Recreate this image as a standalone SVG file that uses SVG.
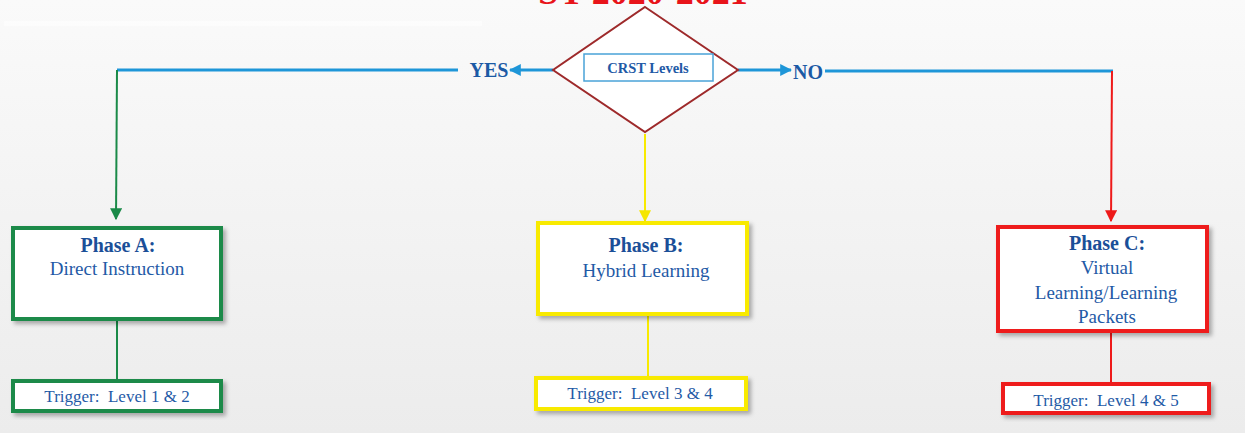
<svg xmlns="http://www.w3.org/2000/svg" width="1245" height="433" viewBox="0 0 1245 433">
  <defs>
    <linearGradient id="bg" x1="0" y1="0" x2="0" y2="1">
      <stop offset="0" stop-color="#fafafa"/>
      <stop offset="1" stop-color="#ececec"/>
    </linearGradient>
    <filter id="shadow" x="-10%" y="-10%" width="130%" height="140%">
      <feDropShadow dx="3" dy="3" stdDeviation="2" flood-color="#000" flood-opacity="0.3"/>
    </filter>
    <marker id="arrBlue" viewBox="0 0 10 10" refX="9" refY="5" markerWidth="4" markerHeight="4" orient="auto" markerUnits="strokeWidth">
      <path d="M0,0 L10,5 L0,10 z" fill="#1e96d8"/>
    </marker>
    <marker id="arrGreen" viewBox="0 0 10 10" refX="9" refY="5" markerWidth="6" markerHeight="6" orient="auto" markerUnits="strokeWidth">
      <path d="M0,0 L10,5 L0,10 z" fill="#1a8a48"/>
    </marker>
    <marker id="arrYellow" viewBox="0 0 10 10" refX="9" refY="5" markerWidth="6" markerHeight="6" orient="auto" markerUnits="strokeWidth">
      <path d="M0,0 L10,5 L0,10 z" fill="#f5e600"/>
    </marker>
    <marker id="arrRed" viewBox="0 0 10 10" refX="9" refY="5" markerWidth="6" markerHeight="6" orient="auto" markerUnits="strokeWidth">
      <path d="M0,0 L10,5 L0,10 z" fill="#ee1a1a"/>
    </marker>
    <style>
      text { font-family: "Liberation Serif", "Times New Roman", serif; fill: #1f5aa6; text-anchor: middle; white-space: pre; }
      .title { font-size: 36px; font-weight: bold; fill: #e8141a; }
      .head { font-size: 20px; font-weight: bold; fill: #1b4f98; }
      .body { font-size: 19px; }
      .trig { font-size: 17px; }
      .yn { font-size: 20px; font-weight: bold; fill: #1b5aa5; }
      .box { fill: #ffffff; stroke-width: 4; filter: url(#shadow); }
      .green { stroke: #1a8a48; }
      .yellow { stroke: #f8ea00; }
      .red { stroke: #ee1a1a; }
      .blue { stroke: #1e96d8; stroke-width: 3; fill: none; }
      .link { fill: none; stroke-width: 2; }
    </style>
  </defs>

  <!-- background -->
  <rect x="0" y="0" width="1245" height="433" fill="url(#bg)"/>
  <rect x="4" y="21" width="478" height="5" fill="#ffffff" opacity="0.5"/>

  <!-- title, partly above the top edge -->
  <text class="title" x="643" y="4">SY 2020-2021</text>

  <!-- connectors -->
  <g id="connectors">
    <polyline class="blue" points="458,70 117,70"/>
    <line class="blue" x1="553" y1="70" x2="510" y2="70" marker-end="url(#arrBlue)"/>
    <line class="blue" x1="738" y1="70" x2="791" y2="70" marker-end="url(#arrBlue)"/>
    <polyline class="blue" points="825,71 1113,71"/>
    <line class="link green" x1="117" y1="70" x2="116" y2="219" marker-end="url(#arrGreen)"/>
    <line class="link yellow" x1="645" y1="134" x2="645" y2="221" marker-end="url(#arrYellow)"/>
    <line class="link red" x1="1112" y1="71" x2="1111" y2="221" marker-end="url(#arrRed)"/>
    <line class="link green" x1="117" y1="320" x2="117" y2="380"/>
    <line class="link yellow" x1="648" y1="316" x2="648" y2="377"/>
    <line class="link red" x1="1111" y1="332" x2="1111" y2="383"/>
  </g>

  <!-- decision -->
  <g id="decision">
    <polygon points="645,7 738,70 645,132 553,70" fill="#ffffff" stroke="#9e2a2b" stroke-width="2"/>
    <rect x="584" y="54" width="129" height="27" fill="#ffffff" stroke="#4aa3d8" stroke-width="1.5"/>
    <text x="648" y="73" style="font-size:14.5px;font-weight:bold;fill:#1f5aa6">CRST Levels</text>
  </g>

  <g id="label-yes"><text class="yn" x="489" y="77">YES</text></g>
  <g id="label-no"><text class="yn" x="808" y="79">NO</text></g>

  <!-- Phase A -->
  <g id="phase-a">
    <rect class="box green" x="13" y="228" width="208" height="91"/>
    <text class="head" x="118" y="252">Phase A:</text>
    <text class="body" x="117" y="275">Direct Instruction</text>
  </g>
  <g id="trigger-a">
    <rect class="box green" x="13" y="381" width="208" height="30"/>
    <text class="trig" x="117" y="402">Trigger:  Level 1 &amp; 2</text>
  </g>

  <!-- Phase B -->
  <g id="phase-b">
    <rect class="box yellow" x="538" y="223" width="209" height="91"/>
    <text class="head" x="646" y="252">Phase B:</text>
    <text class="body" x="646" y="277">Hybrid Learning</text>
  </g>
  <g id="trigger-b">
    <rect class="box yellow" x="536" y="378" width="210" height="31"/>
    <text class="trig" x="640" y="399">Trigger:  Level 3 &amp; 4</text>
  </g>

  <!-- Phase C -->
  <g id="phase-c">
    <rect class="box red" x="998" y="227" width="209" height="104"/>
    <text class="head" x="1107" y="250">Phase C:</text>
    <text class="body" x="1107" y="274">Virtual</text>
    <text class="body" x="1106" y="299">Learning/Learning</text>
    <text class="body" x="1107" y="323">Packets</text>
  </g>
  <g id="trigger-c">
    <rect class="box red" x="1003" y="384" width="206" height="29"/>
    <text class="trig" x="1106" y="406">Trigger:  Level 4 &amp; 5</text>
  </g>
</svg>
